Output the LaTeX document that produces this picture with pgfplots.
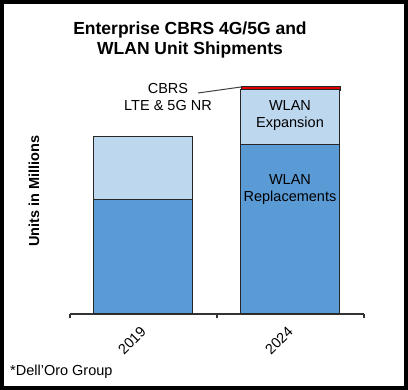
\documentclass[border=0pt]{standalone}
\usepackage{fontspec}
\setmainfont{Liberation Sans}
\usepackage{pgfplots}
\pgfplotsset{compat=1.18}
\definecolor{darkblue}{HTML}{5B9BD5}
\definecolor{lightblue}{HTML}{BDD7EE}
\definecolor{cbrsred}{HTML}{E00000}
\begin{document}
\begin{tikzpicture}
\begin{axis}[
  at={(0,0)}, anchor=south west,
  scale only axis,
  width=294pt, height=250pt,
  xmin=-0.5, xmax=1.5, ymin=0, ymax=250,
  clip=false,
  axis x line*=bottom, axis y line=none,
  x axis line style={black!80, line width=1.2pt},
  ybar stacked, bar width=99pt,
  xtick={0,1}, xticklabels={2019,2024},
  major tick length=0pt,
  minor xtick={-0.5,0.5,1.5},
  minor tick length=4.5pt, tick align=outside,
  minor tick style={black!80, line width=1.2pt},
  xticklabel style={yshift=-15pt, rotate=45, anchor=east, inner sep=0pt,
    font=\fontsize{14.5}{17}\selectfont},
  /pgf/number format/assume math mode=true,
]
\addplot[fill=darkblue, draw=black!85, line width=1pt] coordinates {(0,114) (1,169)};
\addplot[fill=lightblue, draw=black!85, line width=1pt] coordinates {(0,63) (1,55)};
\addplot[fill=cbrsred, draw=black!85, line width=0.6pt] coordinates {(0,0) (1,4)};
\end{axis}
% title
\node[align=center, font=\bfseries\fontsize{17.5}{20}\selectfont] at (120pt,274pt)
  {Enterprise CBRS 4G/5G and\\WLAN Unit Shipments};
% annotation
\node[align=center, font=\fontsize{14.5}{17}\selectfont] at (98pt,217pt)
  {CBRS\\LTE \& 5G NR};
\draw[black!75, line width=1pt] (128pt,221pt) -- (171pt,227pt);
% in-bar labels
\node[align=center, font=\fontsize{14.5}{17}\selectfont] at (220pt,198pt)
  {WLAN\\Expansion};
\node[align=center, font=\fontsize{14.5}{17}\selectfont] at (220pt,124pt)
  {WLAN\\Replacements};
% y label
\node[rotate=90, font=\bfseries\fontsize{14.5}{17}\selectfont] at (-36pt,123pt)
  {Units in Millions};
% source
\node[anchor=west, inner sep=0pt, font=\fontsize{14.5}{17}\selectfont] at (-60pt,-58pt)
  {*Dell’Oro Group};
% frame
\draw[black, line width=4pt] (-68pt,-74pt) rectangle (336pt,312pt);
\end{tikzpicture}
\end{document}
